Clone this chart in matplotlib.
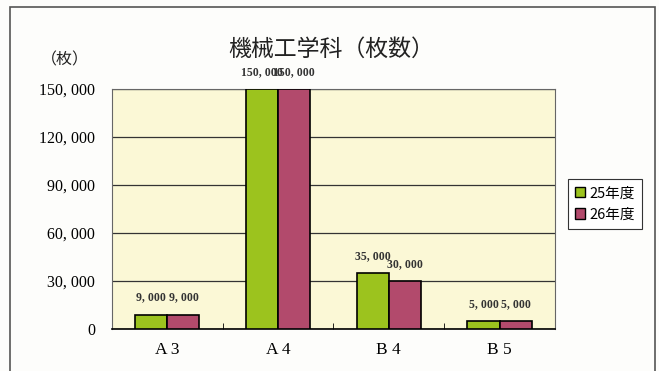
import matplotlib
matplotlib.use("Agg")
import matplotlib.pyplot as plt
from matplotlib.patches import Rectangle, Patch
import numpy as np

# データ
categories = ["A 3", "A 4", "B 4", "B 5"]
series_names = ["25年度", "26年度"]
vals_25 = [9000, 150000, 35000, 5000]
vals_26 = [9000, 150000, 30000, 5000]

plt.rcParams['font.family'] = ['Noto Sans CJK JP', 'DejaVu Sans']

green = '#9cc31e'
red = '#b24a6c'

fig = plt.figure(figsize=(6.59, 3.71), dpi=100)
fig.patch.set_facecolor('#fdfdfb')
ax = fig.add_axes([0.170, 0.113, 0.672, 0.647])
ax.set_facecolor('#fbf8d6')

# 外枠
fig.patches.append(Rectangle((10 / 659, -0.05), 645 / 659, 1.0 - 7 / 371 + 0.05,
                             transform=fig.transFigure, fill=False,
                             edgecolor='#555555', linewidth=1.2))

x = np.arange(len(categories))
w = 0.29
b1 = ax.bar(x - w / 2, vals_25, w, color=green, edgecolor='black', linewidth=1.2, zorder=3)
b2 = ax.bar(x + w / 2, vals_26, w, color=red, edgecolor='black', linewidth=1.2, zorder=3)

def fmt(v):
    return f"{v:,}".replace(",", ", ")

for bars, vals in [(b1, vals_25), (b2, vals_26)]:
    for rect, v in zip(bars, vals):
        ax.annotate(fmt(v), (rect.get_x() + rect.get_width() / 2, v),
                    xytext=(0, 8), textcoords='offset points', ha='center',
                    va='bottom', fontsize=8.5, fontweight='bold',
                    family='Liberation Serif', color='#333333')

ax.set_xlim(-0.5, len(categories) - 0.5)
ax.set_ylim(0, 150000)
yt = np.arange(0, 150001, 30000)
ax.set_yticks(yt)
ax.set_yticklabels([fmt(v) for v in yt], family='Liberation Serif', fontsize=11.5)
ax.set_xticks(x)
ax.set_xticklabels(categories, family='Liberation Serif', fontsize=12.5)
ax.set_xticks(np.arange(0.5, len(categories) - 0.5), minor=True)
ax.tick_params(axis='x', which='major', length=0, pad=9)
ax.tick_params(axis='x', which='minor', length=4, direction='in')
ax.tick_params(axis='y', length=0, pad=12)
ax.grid(axis='y', color='#333333', linewidth=0.9, zorder=1)
for s in ['left', 'right', 'top']:
    ax.spines[s].set_color('#666666')
    ax.spines[s].set_linewidth(0.8)
ax.spines['bottom'].set_linewidth(1.2)

fig.text(0.502, 0.868, "機械工学科（枚数）", ha='center', va='center', fontsize=16.5, color='#222222')
fig.text(0.099, 0.838, "（枚）", ha='center', va='center', fontsize=11.5, color='#222222')

handles = [Patch(facecolor=green, edgecolor='black'), Patch(facecolor=red, edgecolor='black')]
leg = fig.legend(handles, series_names, loc='center', bbox_to_anchor=(0.918, 0.45),
                 fontsize=10.5, handlelength=0.7, handleheight=0.7, handletextpad=0.3,
                 fancybox=False, edgecolor='#333333', framealpha=1, borderpad=0.5)
leg.get_frame().set_linewidth(0.8)

fig.savefig("out.png", dpi=100, facecolor=fig.get_facecolor())
